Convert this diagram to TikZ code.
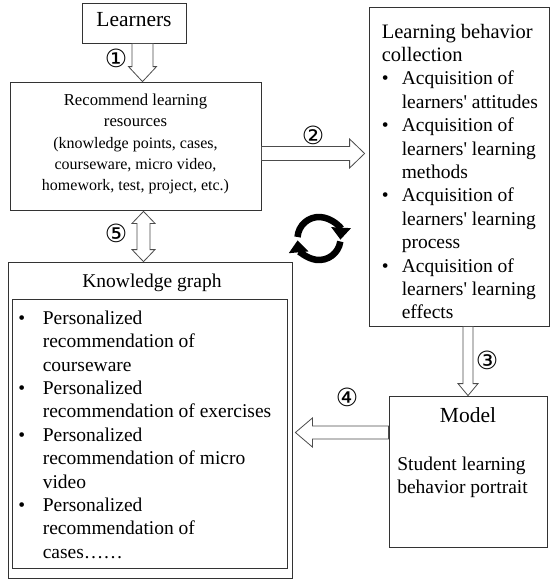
\documentclass[tikz,border=0pt]{standalone}
\usepackage{fontspec}
\setmainfont{Liberation Serif}
\newfontfamily\circfont{DejaVu Sans}
\usetikzlibrary{calc, arrows.meta}

\newcommand{\bitem}[1][20pt]{\makebox[#1][l]{\textbullet}}
\newcommand{\bindent}[1][20pt]{\hspace*{#1}}
\newcommand{\apos}{\textquotesingle}
% hollow block arrow: tail, tip, shaft half width, head half width, head length
\newcommand{\blockarrow}[5]{%
  \coordinate (bah) at ($(#2)!#5!(#1)$);
  \draw[hollow] ($(#1)!#3!90:(#2)$) -- ($(bah)!#3!90:(#2)$) -- ($(bah)!#4!90:(#2)$) -- (#2)
    -- ($(bah)!#4!-90:(#2)$) -- ($(bah)!#3!-90:(#2)$) -- ($(#1)!#3!-90:(#2)$) -- cycle;}
% hollow double block arrow: end a, end b, shaft half width, head half width, head length
\newcommand{\dblockarrow}[5]{%
  \coordinate (bha) at ($(#1)!#5!(#2)$);
  \coordinate (bhb) at ($(#2)!#5!(#1)$);
  \draw[hollow] (#1) -- ($(bha)!#4!90:(#2)$) -- ($(bha)!#3!90:(#2)$) -- ($(bhb)!#3!-90:(#1)$)
    -- ($(bhb)!#4!-90:(#1)$) -- (#2) -- ($(bhb)!#4!90:(#1)$) -- ($(bhb)!#3!90:(#1)$)
    -- ($(bha)!#3!-90:(#2)$) -- ($(bha)!#4!-90:(#2)$) -- cycle;}

\begin{document}
\begin{tikzpicture}[x=1pt, y=1pt,
    box/.style={draw=black!80, line width=0.8pt, inner sep=0pt},
    hollow/.style={draw=black!70, fill=white, line width=0.8pt},
    bodytext/.style={font=\fontsize{19.5}{23.4}\selectfont},
    bigtext/.style={font=\fontsize{21.5}{24}\selectfont},
    smalltext/.style={font=\fontsize{16}{21.2}\selectfont},
    step num/.style={font=\circfont\fontsize{25}{25}\selectfont, inner sep=0pt},
    cycarrow/.style={line width=6.5pt, black, -{Triangle[width=19pt, length=12pt]}}]
  \useasboundingbox (0,0) rectangle (551,-579);

  % boxes
  \node[box, bigtext, minimum width=104pt, minimum height=40pt, text depth=7.5pt] (learners) at (134,-23) {Learners};
  \node[box, minimum width=251pt, minimum height=128pt] (rec) at (135.5,-146) {};
  \node[smalltext, align=center, inner sep=0pt] (rectxt) at ([yshift=2pt]rec.center)
    {{\fontsize{16.7}{21.2}\selectfont Recommend learning}\\{\fontsize{16.7}{21.2}\selectfont resources}\\(knowledge points, cases,\\courseware, micro video,\\homework, test, project, etc.)};

  \node[box, minimum width=180pt, minimum height=319pt] (behav) at (459,-166.5) {};
  \node[bodytext, align=left, anchor=north west, inner sep=0pt] (behavtxt) at ([shift={(13pt,-17pt)}]behav.north west)
    {{\fontsize{20.5}{23.4}\selectfont Learning behavior}\\
     {\fontsize{20.5}{23.4}\selectfont collection}\\
     \bitem Acquisition of\\
     \bindent learners\apos{} attitudes\\
     \bitem Acquisition of\\
     \bindent learners\apos{} learning\\
     \bindent methods\\
     \bitem Acquisition of\\
     \bindent learners\apos{} learning\\
     \bindent process\\
     \bitem Acquisition of\\
     \bindent learners\apos{} learning\\
     \bindent effects};

  \node[box, minimum width=158pt, minimum height=151pt] (model) at (468,-471.5) {};
  \node[bigtext, anchor=base, inner sep=0pt] (modeltitle) at ([yshift=-27pt]model.north) {Model};
  \node[bodytext, align=left, anchor=north west, inner sep=0pt] (modeltxt) at ([shift={(8.5pt,-61pt)}]model.north west)
    {Student learning\\behavior portrait};

  \node[box, minimum width=284pt, minimum height=316pt] (kg) at (150,-420) {};
  \node[bodytext, anchor=base, inner sep=0pt] (kgtitle) at ([shift={(2pt,-25.5pt)}]kg.north) {Knowledge graph};
  \node[box, minimum width=275pt, minimum height=269pt] (kglist) at (149.5,-433.5) {};
  \node[bodytext, align=left, anchor=north west, inner sep=0pt] (kgtxt) at ([shift={(6.6pt,-12pt)}]kglist.north west)
    {\bitem[24.4pt]Personalized\\
     \bindent[24.4pt]recommendation of\\
     \bindent[24.4pt]courseware\\
     \bitem[24.4pt]Personalized\\
     \bindent[24.4pt]recommendation of exercises\\
     \bitem[24.4pt]Personalized\\
     \bindent[24.4pt]recommendation of micro\\
     \bindent[24.4pt]video\\
     \bitem[24.4pt]Personalized\\
     \bindent[24.4pt]recommendation of\\
     \bindent[24.4pt]cases\ldots\ldots};

  % block arrows
  \coordinate (a1t) at ([xshift=8.5pt]learners.south);
  \coordinate (a1h) at (a1t |- rec.north);
  \blockarrow{a1t}{a1h}{10.5pt}{14pt}{15pt}
  \coordinate (a2t) at ([yshift=-7.5pt]rec.east);
  \coordinate (a2h) at ($(a2t -| behav.west)+(-4pt,0)$);
  \blockarrow{a2t}{a2h}{7pt}{14.5pt}{15pt}
  \coordinate (a3t) at (model.north |- behav.south);
  \blockarrow{a3t}{model.north}{5pt}{10pt}{12pt}
  \coordinate (a4t) at ([yshift=39pt]model.west);
  \coordinate (a4h) at ($(a4t -| kg.east)+(3pt,0)$);
  \blockarrow{a4t}{a4h}{6.5pt}{14.5pt}{17pt}
  \coordinate (a5a) at ([xshift=8pt,yshift=-1pt]rec.south);
  \coordinate (a5b) at (a5a |- kg.north);
  \dblockarrow{a5a}{a5b}{6.5pt}{11.5pt}{12pt}

  % step numbers
  \node[step num] (n1) at (116,-58) {①};
  \node[step num] (n2) at (313,-135) {②};
  \node[step num] (n3) at (487,-360) {③};
  \node[step num] (n4) at (347,-397) {④};
  \node[step num] (n5) at (116,-233) {⑤};

  % cycle symbol
  \coordinate (cyc) at (319,-238.5);
  \draw[cycarrow] (cyc) ++(176:21.5) arc[start angle=176, end angle=-3, radius=21.5];
  \draw[cycarrow] (cyc) ++(-8:21.5) arc[start angle=-8, end angle=-175, radius=21.5];
\end{tikzpicture}
\end{document}
